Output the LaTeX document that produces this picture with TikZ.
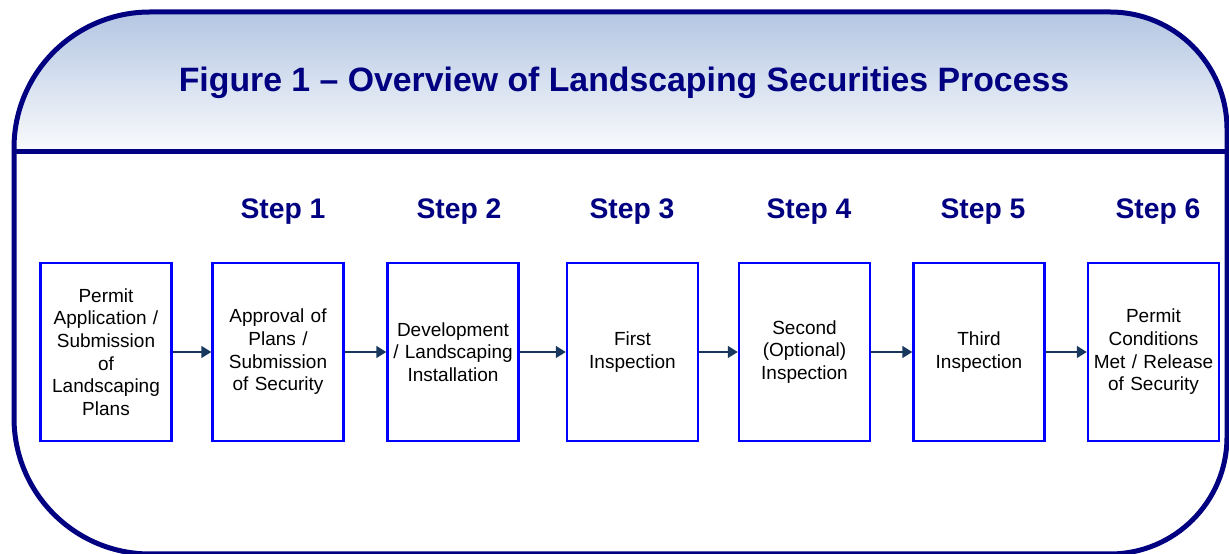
\documentclass[tikz,border=0pt]{standalone}
\usepackage{fontspec}
\setmainfont{Liberation Sans}
\usetikzlibrary{arrows.meta}

\definecolor{frame}{RGB}{0,0,128}
\definecolor{titlecol}{RGB}{0,0,128}
\definecolor{boxline}{RGB}{0,0,255}
\definecolor{arrowcol}{RGB}{23,55,94}
\definecolor{headtop}{RGB}{179,198,226}
\definecolor{headbot}{RGB}{250,251,253}

\tikzset{
  stagebox/.style={draw=boxline, line width=2.5pt, fill=white,
    minimum width=131pt, minimum height=178pt, inner sep=0pt,
    text width=128pt, align=center,
    font=\fontsize{19}{22.7}\selectfont},
  steplabel/.style={anchor=base, text=titlecol,
    font=\fontsize{28.3}{31}\selectfont\bfseries},
  flow/.style={draw=arrowcol, line width=1.6pt,
    -{Triangle[length=10pt,width=12pt]}, shorten >=0pt},
  outline/.style={draw=frame, line width=5pt}
}

\begin{document}
\begin{tikzpicture}[x=1pt,y=1pt]
  \useasboundingbox (0,0) rectangle (1229,554);
  \clip (0,0) rectangle (1229,554);

  % shaded header band
  \shade[top color=headtop, bottom color=headbot]
    (14,402) -- (14,406) arc[start angle=180,end angle=90,radius=136]
    -- (1110,542) arc[start angle=90,end angle=0,radius=117]
    -- (1227,402) -- cycle;

  % rounded outer frame
  \path[outline]
    (14,136) -- (14,406) arc[start angle=180,end angle=90,radius=136]
    -- (1110,542) arc[start angle=90,end angle=0,radius=117]
    -- (1227,117) arc[start angle=0,end angle=-90,radius=117]
    -- (150,0) arc[start angle=270,end angle=180,radius=136]
    -- cycle;

  % divider under the header
  \coordinate (hl) at (14,402);
  \coordinate (hr) at (1227,402);
  \path[outline] (hl) -- (hr);

  % title
  \node[anchor=base, text=titlecol, font=\fontsize{33.8}{37}\selectfont\bfseries]
    (title) at (624,462) {Figure 1 – Overview of Landscaping Securities Process};

  % step labels
  \node[steplabel] (s1) at (283,335) {Step 1};
  \node[steplabel] (s2) at (459,335) {Step 2};
  \node[steplabel] (s3) at (632,335) {Step 3};
  \node[steplabel] (s4) at (809,335) {Step 4};
  \node[steplabel] (s5) at (983,335) {Step 5};
  \node[steplabel] (s6) at (1158,335) {Step 6};

  % process boxes
  \node[stagebox] (b0) at (106,202) {Permit\\Application /\\Submission\\of\\Landscaping\\Plans};
  \node[stagebox] (b1) at (278,202) {Approval of\\Plans /\\Submission\\of Security};
  \node[stagebox] (b2) at (453,202) {Development\\/ Landscaping\\Installation};
  \node[stagebox] (b3) at (632.5,202) {First\\Inspection};
  \node[stagebox] (b4) at (804.5,202) {Second\\(Optional)\\Inspection};
  \node[stagebox] (b5) at (979,202) {Third\\Inspection};
  \node[stagebox] (b6) at (1153.5,202) {Permit\\Conditions\\Met / Release\\of Security};

  % connectors
  \draw[flow] (b0.east) -- (b1.west);
  \draw[flow] (b1.east) -- (b2.west);
  \draw[flow] (b2.east) -- (b3.west);
  \draw[flow] (b3.east) -- (b4.west);
  \draw[flow] (b4.east) -- (b5.west);
  \draw[flow] (b5.east) -- (b6.west);
\end{tikzpicture}
\end{document}
